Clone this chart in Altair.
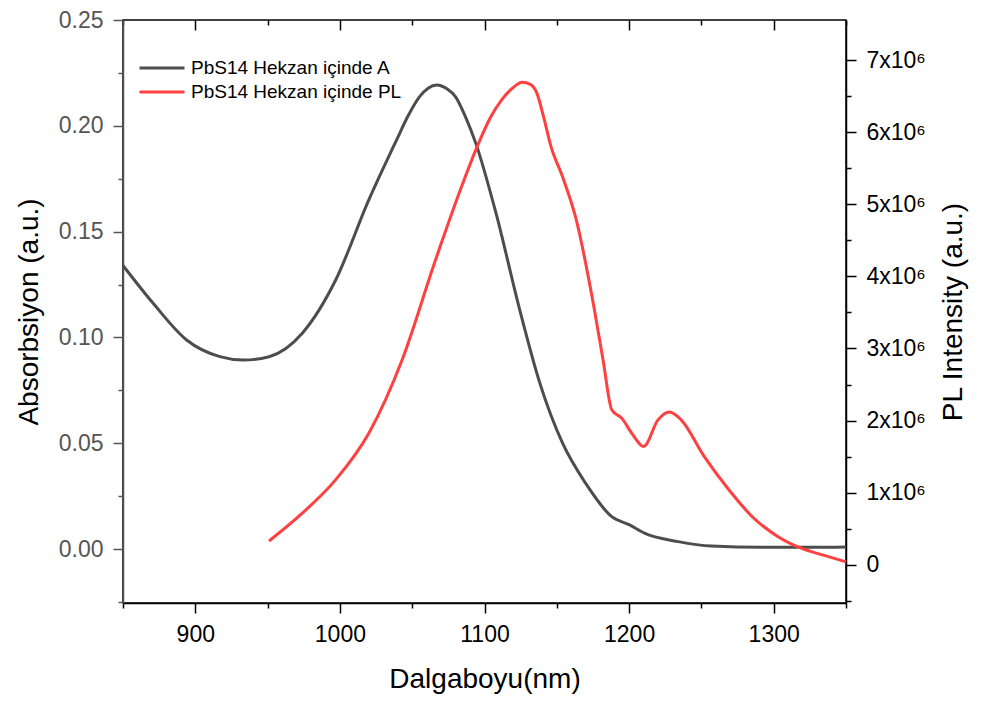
import altair as alt
import pandas as pd

# ---- data ----
series_names = ["PbS14 Hekzan içinde A", "PbS14 Hekzan içinde PL"]
series_colors = ["#4D4D4D", "#FF4040"]

abs_wl = [850, 871, 894, 917, 933, 951, 974, 997, 1020, 1030, 1039, 1047, 1055,
          1061, 1067, 1074, 1080, 1087, 1094, 1108, 1124, 1138, 1154, 1170, 1188,
          1200, 1211, 1234, 1257, 1292, 1326, 1350]
abs_val = [0.134, 0.116, 0.0988, 0.0909, 0.0893, 0.0909, 0.102, 0.127, 0.165,
           0.180, 0.193, 0.2045, 0.2137, 0.2178, 0.2193, 0.2175, 0.2137, 0.204,
           0.1917, 0.1586, 0.114, 0.079, 0.050, 0.031, 0.0153, 0.0115, 0.0074,
           0.0035, 0.0014, 0.0008, 0.0008, 0.001]

pl_wl = [951, 974, 997, 1020, 1043, 1066, 1085, 1096, 1104, 1112, 1120, 1126,
         1132, 1136, 1141, 1146, 1154, 1163, 1174, 1182, 1188, 1195, 1202, 1210,
         1220, 1228, 1236, 1252, 1269, 1285, 1303, 1319, 1335, 1350]
pl_val_e6 = [0.33, 0.716, 1.177, 1.824, 2.84, 4.22, 5.29, 5.85, 6.2, 6.45, 6.62,
             6.69, 6.66, 6.55, 6.2, 5.8, 5.38, 4.82, 3.76, 2.84, 2.15, 2.03, 1.82,
             1.64, 2.01, 2.12, 2.01, 1.50, 1.04, 0.67, 0.39, 0.23, 0.13, 0.04]

x_tick_values = [850, 900, 950, 1000, 1050, 1100, 1150, 1200, 1250, 1300, 1350]
left_tick_values = [-0.025, 0.0, 0.025, 0.05, 0.075, 0.1, 0.125, 0.15, 0.175,
                    0.2, 0.225, 0.25]
right_tick_values = [-500000, 0, 500000, 1000000, 1500000, 2000000, 2500000,
                     3000000, 3500000, 4000000, 4500000, 5000000, 5500000,
                     6000000, 6500000, 7000000]

df_a = pd.DataFrame({"wl": abs_wl, "v": abs_val, "s": series_names[0]})
df_p = pd.DataFrame({"wl": pl_wl, "v": [p * 1e6 for p in pl_val_e6],
                     "s": series_names[1]})

FONT = "Liberation Sans"

x_scale = alt.Scale(domain=[850, 1350], nice=False, zero=False)


def series_color(i, legend_y):
    return alt.Color(
        "s:N",
        scale=alt.Scale(domain=[series_names[i]], range=[series_colors[i]]),
        legend=alt.Legend(
            title=None, orient="none", legendX=15, legendY=legend_y,
            symbolType="stroke", symbolSize=2025, symbolStrokeWidth=3,
            labelFont=FONT, labelFontSize=19, labelColor="black",
            labelLimit=500, labelOffset=5, padding=0,
        ),
    )


minor_x_test = "datum.value % 100 != 0"

abs_line = alt.Chart(df_a).mark_line(strokeWidth=3, interpolate="monotone").encode(
    x=alt.X("wl:Q", scale=x_scale, axis=alt.Axis(
        orient="bottom", title="Dalgaboyu(nm)", values=x_tick_values,
        labelExpr="datum.value % 100 == 0 ? format(datum.value, 'd') : ''",
        grid=False, tickSize=10, tickWidth=1.5, tickColor="black",
        tickDash={"condition": {"test": minor_x_test, "value": [5, 100]},
                  "value": [1000, 0]},
        domainColor="black", domainWidth=1.5,
        labelFont=FONT, labelFontSize=23, labelColor="black", labelPadding=10,
        labelOverlap=False, labelFlush=False,
        titleFont=FONT, titleFontSize=28, titleFontWeight="normal",
        titleColor="black", titlePadding=19,
    )),
    y=alt.Y("v:Q", scale=alt.Scale(domain=[-0.0255, 0.25], nice=False, zero=False),
            axis=alt.Axis(
                orient="left", title="Absorbsiyon (a.u.)", values=left_tick_values,
                labelExpr="round(datum.value*1000) % 50 == 0 ? format(datum.value, '.2f') : ''",
                grid=False, tickSize=10, tickWidth=1.5, tickColor="#555555",
                tickDash={"condition": {"test": "round(datum.value*1000) % 50 != 0",
                                        "value": [5, 100]},
                          "value": [1000, 0]},
                domainColor="#555555", domainWidth=1.5,
                labelFont=FONT, labelFontSize=23, labelColor="#555555",
                labelPadding=10, labelOverlap=False, labelFlush=False,
                titleFont=FONT, titleFontSize=28, titleFontWeight="normal",
                titleColor="black", titlePadding=15,
            )),
    color=series_color(0, 24),
)

# top axis: moved 10px inside the plot so its outward ticks point into the plot
pl_line = alt.Chart(df_p).mark_line(strokeWidth=3, interpolate="monotone").encode(
    x=alt.X("wl:Q", scale=x_scale, axis=alt.Axis(
        orient="top", title=None, labels=False, values=x_tick_values,
        grid=False, tickSize=10, tickWidth=1.5, tickColor="black", offset=-10,
        tickDash={"condition": {"test": minor_x_test, "value": [0, 5, 5, 100]},
                  "value": [1000, 0]},
        domain=False,
    )),
    y=alt.Y("v:Q", scale=alt.Scale(domain=[-530000, 7555000], nice=False, zero=False),
            axis=alt.Axis(
                orient="right", title="PL Intensity (a.u.)", values=right_tick_values,
                labelExpr="round(datum.value/100000) % 10 == 0 ? (datum.value == 0 ? '0' : format(datum.value/1000000, 'd') + 'x10\u2076') : ''",
                grid=False, tickSize=10, tickWidth=1.5, tickColor="black",
                tickDash={"condition": {"test": "round(datum.value/100000) % 10 != 0",
                                        "value": [5, 100]},
                          "value": [1000, 0]},
                domainColor="black", domainWidth=1.5,
                labelFont=FONT, labelFontSize=23, labelColor="black",
                labelPadding=10, labelOverlap=False, labelFlush=False,
                titleFont=FONT, titleFontSize=28, titleFontWeight="normal",
                titleColor="black", titlePadding=14, titleAngle=270,
                titleBaseline="top",
            )),
    color=series_color(1, 48),
)

chart = (
    alt.layer(abs_line, pl_line)
    .resolve_scale(y="independent", color="independent")
    .resolve_axis(x="independent", y="independent")
    .resolve_legend(color="independent")
    .properties(
        width=723, height=583,
        autosize=alt.AutoSizeParams(type="none"),
        padding={"left": 123, "top": 20, "right": 143, "bottom": 99},
        background="white",
    )
    .configure_view(stroke="black", strokeWidth=1.5)
)

chart.save("out.html", embed_options={"renderer": "svg", "actions": False})
